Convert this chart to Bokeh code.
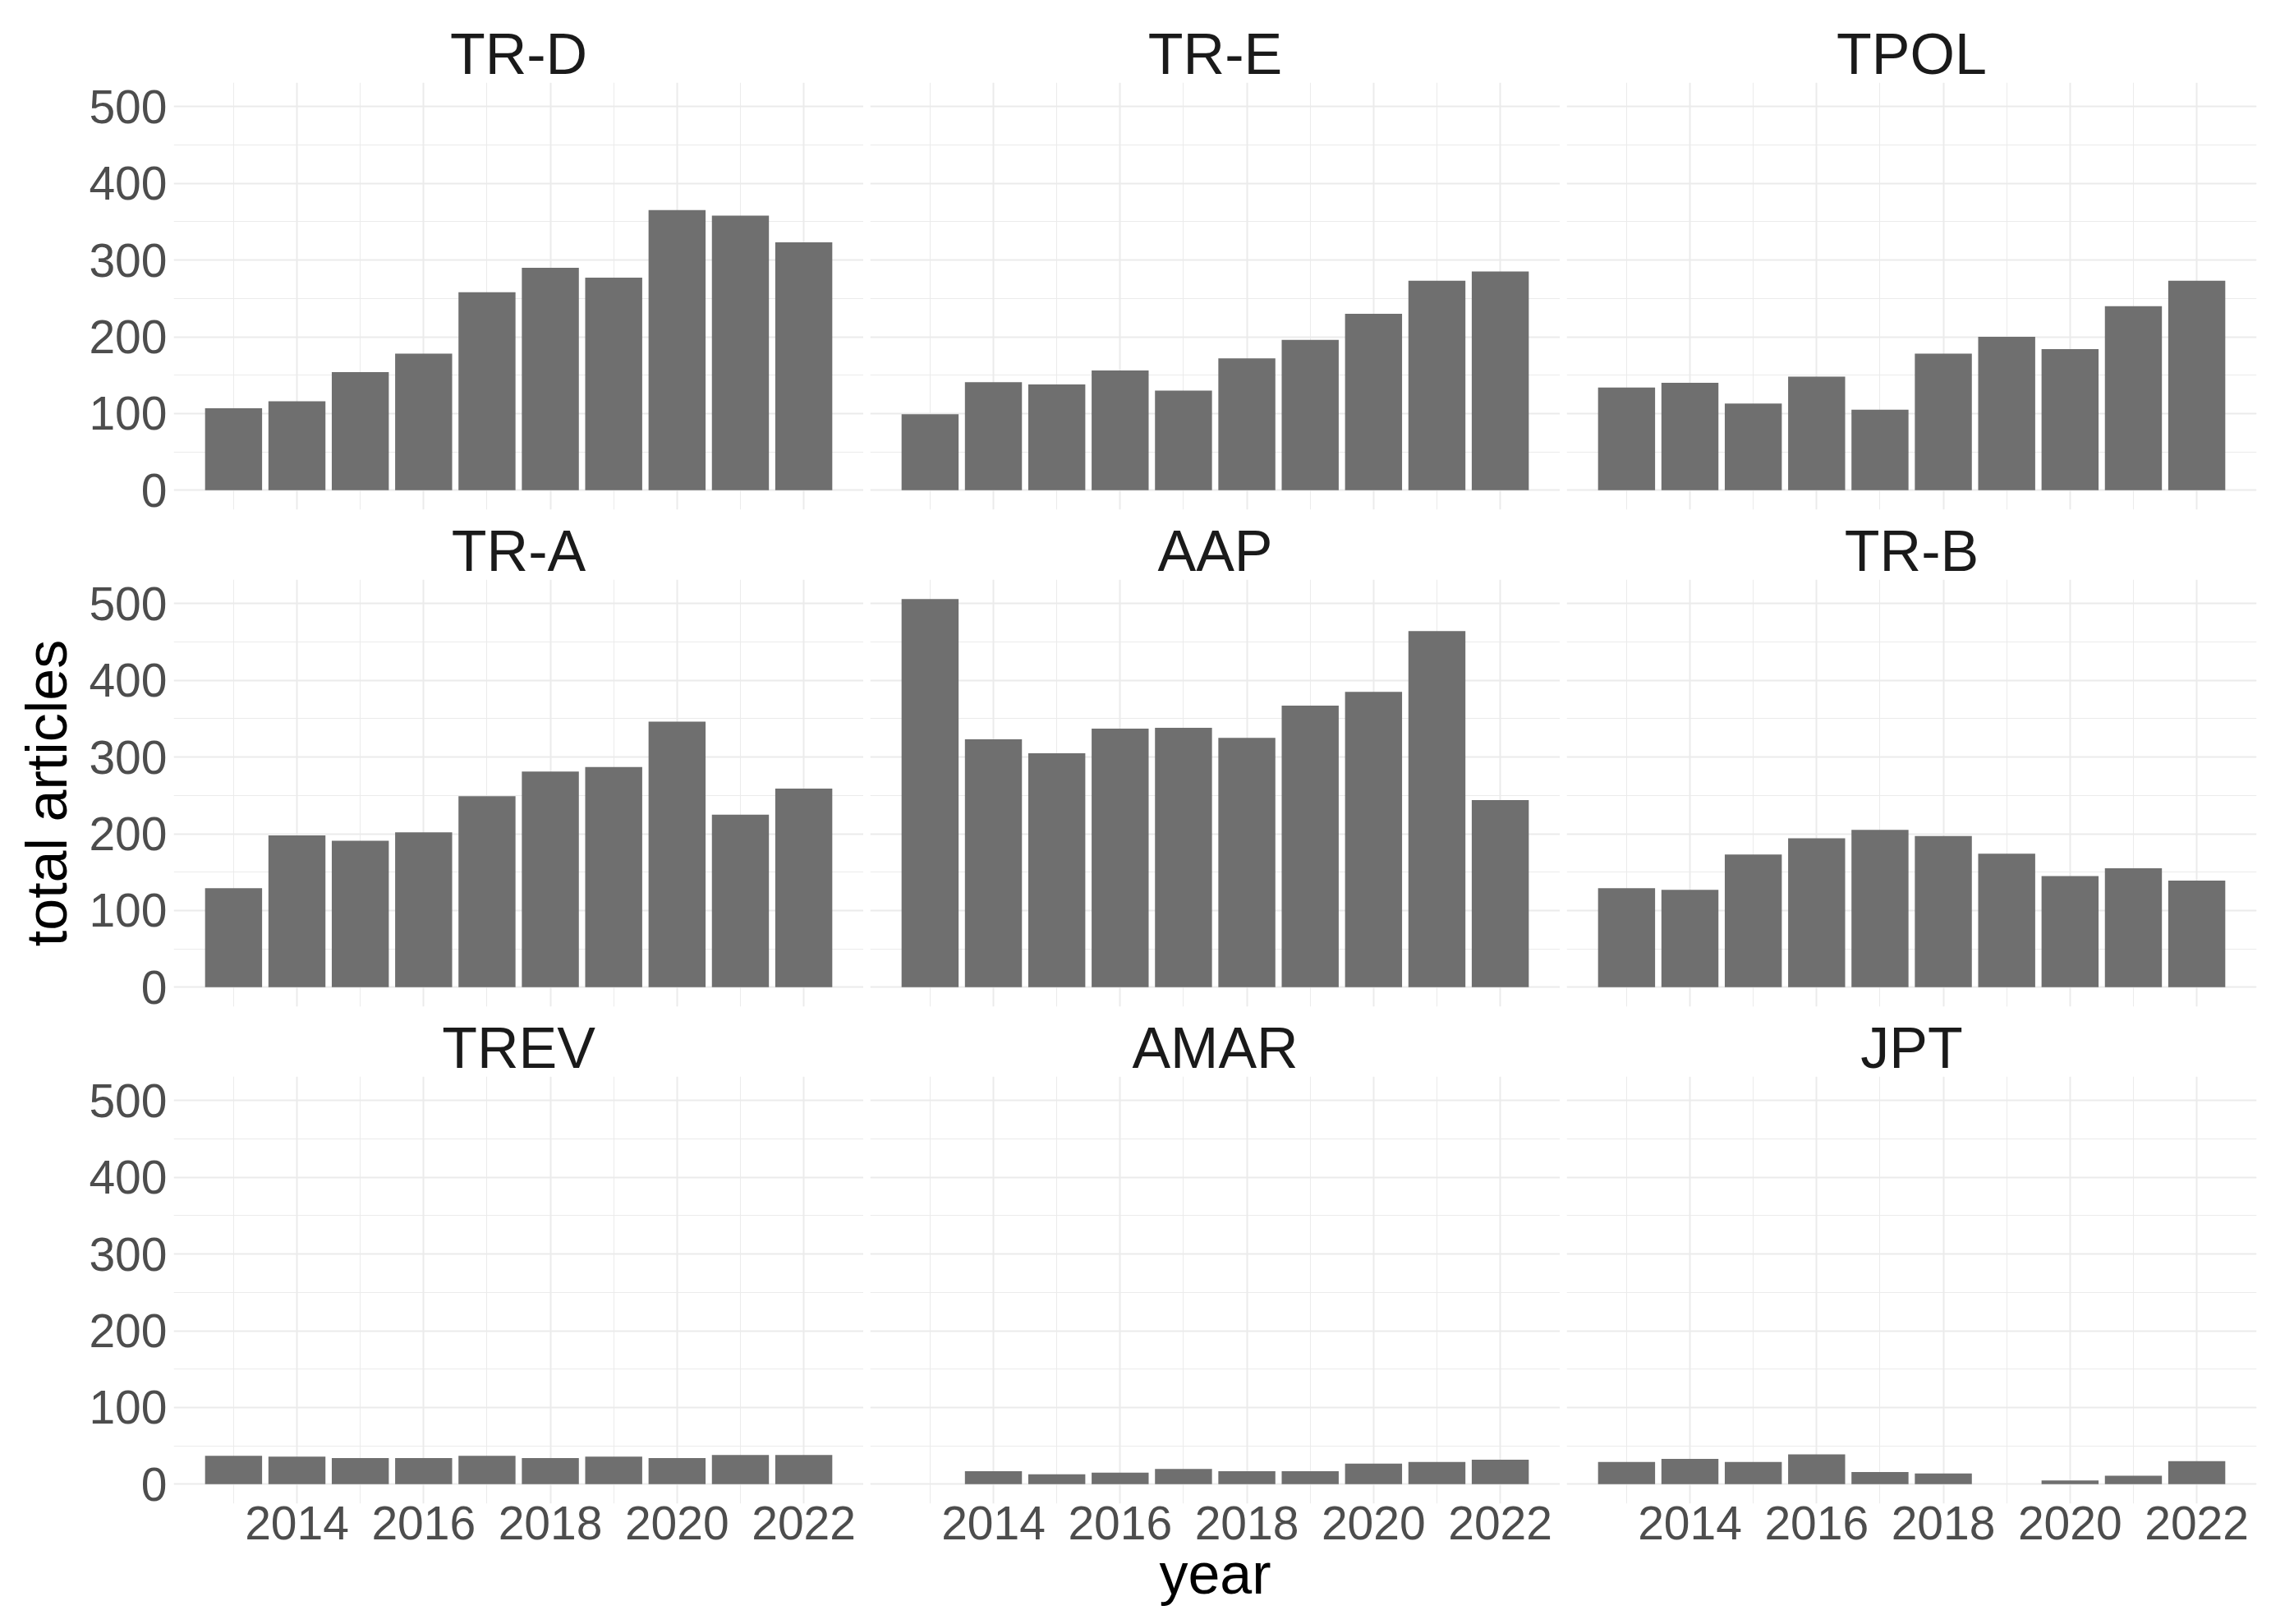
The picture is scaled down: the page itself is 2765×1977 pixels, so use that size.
from bokeh.plotting import figure
from bokeh.models import Range1d, FixedTicker, ColumnDataSource
from bokeh.layouts import column, row
from bokeh.embed import file_html
from bokeh.resources import INLINE

years = [2013, 2014, 2015, 2016, 2017, 2018, 2019, 2020, 2021, 2022]
outlets = ["TR-D", "TR-E", "TPOL", "TR-A", "AAP", "TR-B", "TREV", "AMAR", "JPT"]

tr_d = [107, 116, 154, 178, 258, 290, 277, 365, 358, 323]
tr_e = [99, 141, 138, 156, 130, 172, 196, 230, 273, 285]
tpol = [134, 140, 113, 148, 105, 178, 200, 184, 240, 273]
tr_a = [129, 198, 191, 202, 249, 281, 287, 346, 225, 259]
aap = [506, 323, 305, 337, 338, 325, 367, 385, 464, 244]
tr_b = [129, 127, 173, 194, 205, 197, 174, 145, 155, 139]
trev = [37, 36, 34, 34, 37, 34, 36, 34, 38, 38]
amar = [None, 17, 13, 15, 20, 17, 17, 27, 29, 32]
jpt = [29, 33, 29, 39, 16, 14, None, 5, 11, 30]

series = [tr_d, tr_e, tpol, tr_a, aap, tr_b, trev, amar, jpt]

y_major = [0, 100, 200, 300, 400, 500]
y_minor = [50, 150, 250, 350, 450]
x_major = [2014, 2016, 2018, 2020, 2022]
x_minor = [2013, 2015, 2017, 2019, 2021]

BAR = "#6F6F6F"
GRID = "#EBEBEB"
FONT = "Liberation Sans"

ymax = max(v for s in series for v in s if v is not None)
ypad = ymax * 0.05
xlo, xhi = years[0] - 0.45, years[-1] + 0.45
xpad = (xhi - xlo) * 0.05

FW, FH = 840, 520
figs = []
for i, (name, vals) in enumerate(zip(outlets, series)):
    r, c = divmod(i, 3)
    xs = [y for y, v in zip(years, vals) if v is not None]
    vs = [v for v in vals if v is not None]
    src = ColumnDataSource(dict(year=xs, count=vs))
    p = figure(frame_width=FW, frame_height=FH,
               x_range=Range1d(xlo - xpad, xhi + xpad),
               y_range=Range1d(-ypad, ymax + ypad),
               output_backend="svg", toolbar_location=None,
               min_border_left=211 if c == 0 else 8,
               min_border_right=2 if c == 2 else 0,
               min_border_top=100 if r == 0 else 76,
               min_border_bottom=140 if r == 2 else 9)
    p.outline_line_color = None
    p.background_fill_color = "white"
    p.border_fill_color = "white"
    p.vbar(x="year", top="count", width=0.9, bottom=0, source=src,
           fill_color=BAR, line_color=None)

    p.title.text = name
    p.title.align = "center"
    p.title.text_font = FONT
    p.title.text_font_size = "70px"
    p.title.text_font_style = "normal"
    p.title.text_color = "#1A1A1A"
    p.title.standoff = -8

    xt = FixedTicker(ticks=x_major, minor_ticks=x_minor)
    yt = FixedTicker(ticks=y_major, minor_ticks=y_minor)
    p.xaxis.ticker = xt
    p.yaxis.ticker = yt
    p.xgrid.ticker = xt
    p.ygrid.ticker = yt
    for g in (p.xgrid, p.ygrid):
        g.grid_line_color = GRID
        g.grid_line_width = 2
        g.minor_grid_line_color = GRID
        g.minor_grid_line_width = 1
    for ax in (p.xaxis, p.yaxis):
        ax.axis_line_color = None
        ax.major_tick_line_color = None
        ax.minor_tick_line_color = None
        ax.major_tick_out = 0
        ax.major_tick_in = 0
        ax.minor_tick_out = 0
        ax.minor_tick_in = 0
        ax.major_label_text_font = FONT
        ax.major_label_text_font_size = "57px"
        ax.major_label_text_color = "#4D4D4D"
        ax.axis_label_text_font = FONT
        ax.axis_label_text_font_size = "70px"
        ax.axis_label_text_font_style = "normal"
        ax.axis_label_text_color = "black"
    p.yaxis.major_label_standoff = 8
    p.xaxis.major_label_standoff = 3
    if c != 0:
        p.yaxis.visible = False
    if r != 2:
        p.xaxis.visible = False
    if c == 0 and r == 1:
        p.yaxis.axis_label = "total articles"
        p.yaxis.axis_label_standoff = 9
    if c == 1 and r == 2:
        p.xaxis.axis_label = "year"
        p.xaxis.axis_label_standoff = 0
    figs.append(p)

layout = column(row(*figs[0:3]), row(*figs[3:6]), row(*figs[6:9]))

open("out.html", "w").write(file_html(layout, INLINE))
